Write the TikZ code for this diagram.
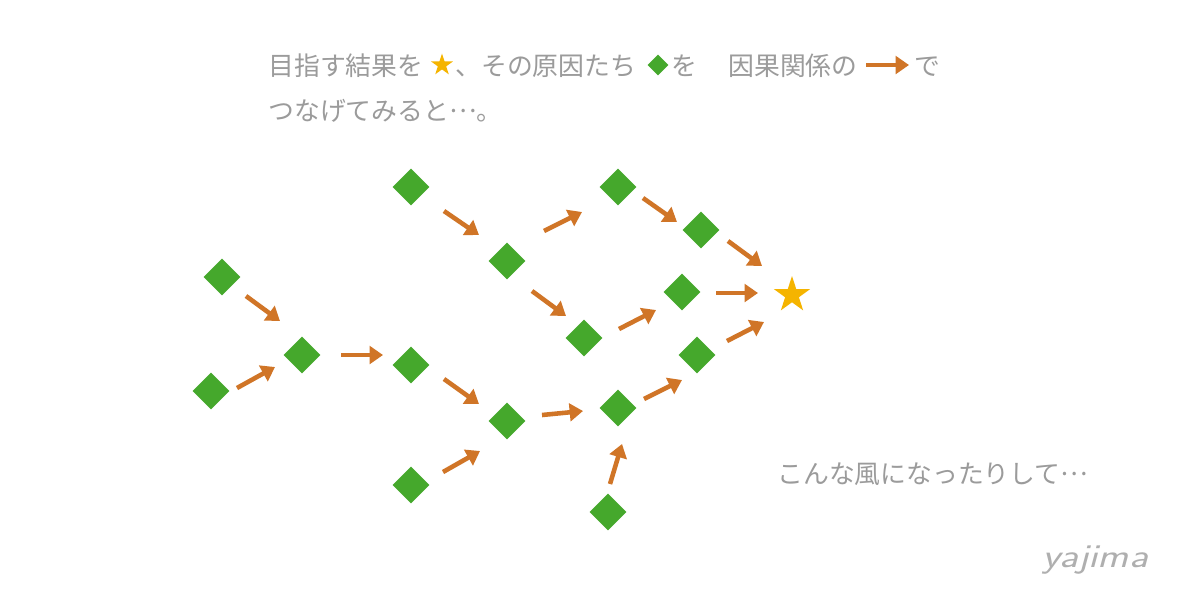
\documentclass[tikz,border=0pt]{standalone}
\usepackage{fontspec}
\newfontfamily\jp{Noto Sans CJK JP}
\usetikzlibrary{shapes.geometric,arrows.meta,calc}
\definecolor{dgreen}{HTML}{45A82C}
\definecolor{arrorange}{HTML}{D07527}
\definecolor{stargold}{HTML}{F5B400}
\definecolor{txtgray}{HTML}{9B9B9B}
\newcommand{\midell}{\raisebox{0.3em}{…}}
\begin{document}
\begin{tikzpicture}[x=0.02cm,y=-0.02cm,
  cause/.style={diamond,fill=dgreen,draw=none,inner sep=0pt,minimum size=0.74cm},
  goal/.style={star,star points=5,star point ratio=2.618,fill=stargold,draw=none,inner sep=0pt,minimum size=0.76cm},
  arr/.style={draw=arrorange,line width=2.6pt,-{Triangle[length=7.6pt,width=10pt]}},
  jptext/.style={font=\jp\fontsize{14.7pt}{18pt}\selectfont,text=txtgray,inner sep=0pt,anchor=base west}]
\useasboundingbox[fill=white] (0,0) rectangle (1200,600);

% causes and goal
\node[cause] (A1) at (222,277) {};
\node[cause] (A2) at (211,391) {};
\node[cause] (B)  at (302,355) {};
\node[cause] (C1) at (411,187) {};
\node[cause] (C2) at (507,261) {};
\node[cause] (C3) at (618,187) {};
\node[cause] (C4) at (701,230) {};
\node[cause] (D1) at (584,338) {};
\node[cause] (D2) at (682,292) {};
\node[cause] (E1) at (411,365) {};
\node[cause] (E2) at (507,421) {};
\node[cause] (E3) at (618,408) {};
\node[cause] (E4) at (697,355) {};
\node[cause] (F1) at (411,485) {};
\node[cause] (F2) at (608,512) {};
\node[goal]  (S)  at (792,295) {};

% causal arrows
\draw[arr] ($(A1)+(24,19)$) -- ($(B)+(-22,-34)$);
\draw[arr] ($(A2)+(26,-3)$) -- ($(B)+(-27,12)$);
\draw[arr] ($(B)+(39,0)$) -- ($(E1)+(-28,-10)$);
\draw[arr] ($(C1)+(33,24)$) -- ($(C2)+(-28,-26)$);
\draw[arr] ($(C2)+(37,-30)$) -- ($(C3)+(-36,25)$);
\draw[arr] ($(C2)+(25,30)$) -- ($(D1)+(-18,-22)$);
\draw[arr] ($(C3)+(25,11)$) -- ($(C4)+(-24,-8)$);
\draw[arr] ($(C4)+(27,11)$) -- ($(S)+(-30,-29)$);
\draw[arr] ($(D1)+(35,-9)$) -- ($(D2)+(-26,18)$);
\draw[arr] ($(D2)+(34,1)$) -- ($(S)+(-34,-2)$);
\draw[arr] ($(E1)+(33,14)$) -- ($(E2)+(-28,-17)$);
\draw[arr] ($(F1)+(32,-13)$) -- ($(E2)+(-27,30)$);
\draw[arr] ($(E2)+(35,-6)$) -- ($(E3)+(-35,3)$);
\draw[arr] ($(E3)+(26,-9)$) -- ($(E4)+(-15,25)$);
\draw[arr] ($(E4)+(30,-14)$) -- ($(S)+(-28,27)$);
\draw[arr] ($(F2)+(2,-28)$) -- ($(E3)+(4,36)$);

% title text
\node[jptext] (t1) at (268,75) {目指す結果を};
\node[goal,minimum size=0.46cm] (ls) at (442,65) {};
\node[jptext] (t2) at (455,75) {、その原因たち};
\node[cause,minimum size=0.42cm] (ld) at (658,65) {};
\node[jptext] (t3) at (671,75) {を};
\node[jptext] (t4) at (728,75) {因果関係の};
\coordinate (la1) at (866,65);
\coordinate (la2) at (909,65);
\draw[arr] (la1) -- (la2);
\node[jptext] (t5) at (914,75) {で};
\node[jptext] (t6) at (268,120) {つなげてみると\midell 。};

\node[jptext] (t7) at (777,483) {こんな風になったりして\midell};

\node[font=\sffamily\itshape\fontsize{19pt}{22pt}\selectfont,text=txtgray!80,inner sep=0pt,anchor=base west,xscale=1.25] (sig) at (1042,567) {yajima};
\end{tikzpicture}
\end{document}
